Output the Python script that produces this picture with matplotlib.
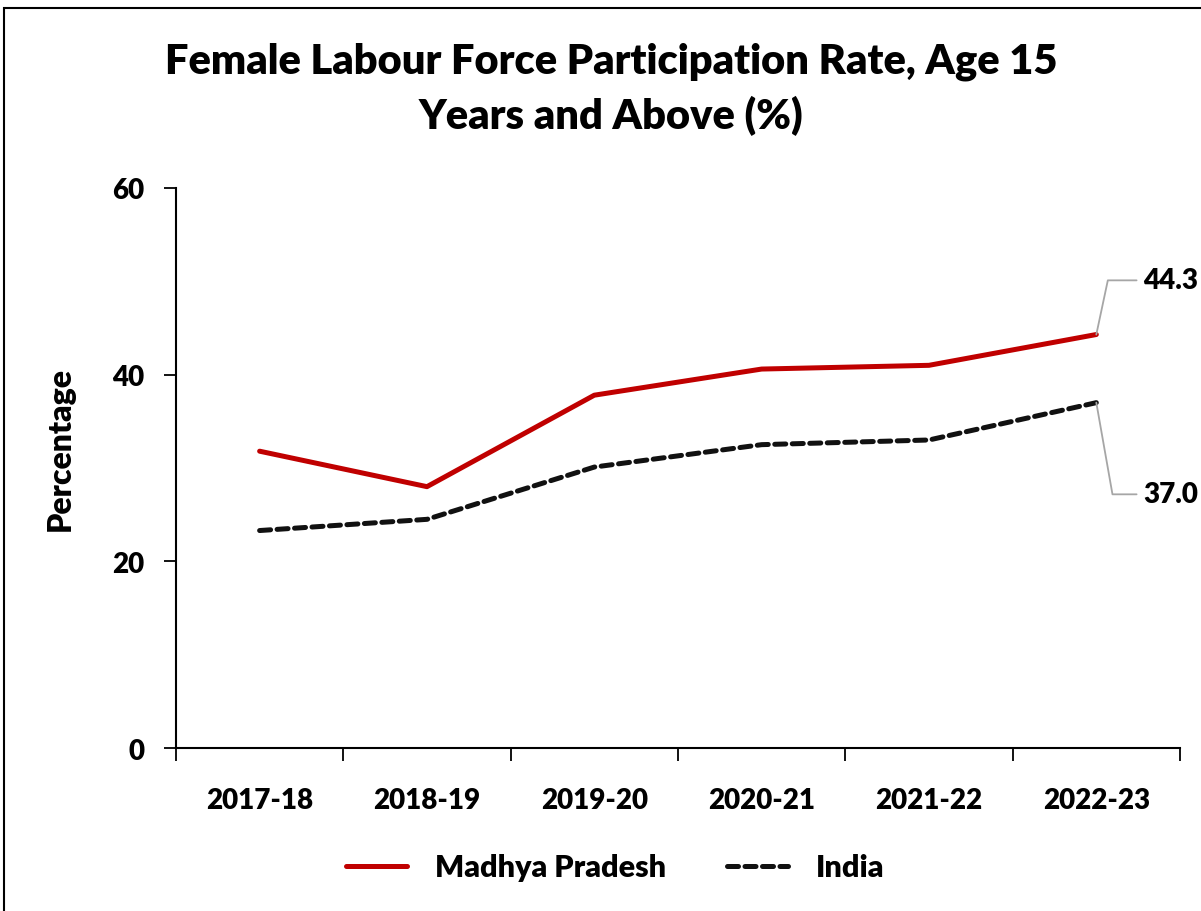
import numpy as np
import matplotlib.pyplot as plt
from matplotlib.patches import Rectangle

plt.rcParams['font.family'] = ['Lato', 'DejaVu Sans']
plt.rcParams['font.weight'] = 'heavy'
W = "heavy"

years = ["2017-18", "2018-19", "2019-20", "2020-21", "2021-22", "2022-23"]
mp = [31.8, 28.0, 37.8, 40.6, 41.0, 44.3]
india = [23.3, 24.5, 30.1, 32.5, 33.0, 37.0]

fig = plt.figure(figsize=(12.01, 9.12), dpi=100)
ax = fig.add_axes([0.1465, 0.1787, 0.836, 0.6141])

x = np.arange(len(years))
ax.plot(x, mp, color="#C00000", lw=3.6, label="Madhya Pradesh", solid_capstyle="round")
ax.plot(x, india, color="#111111", lw=3.6, ls=(0, (2.2, 1.3)), dash_capstyle="round",
        label="India")

ax.set_xlim(-0.5, len(years) - 0.5)
ax.set_ylim(0, 60)
ax.set_yticks([0, 20, 40, 60])
ax.set_xticks(x)
ax.set_xticklabels(years, fontweight=W, fontsize=20)
ax.set_yticklabels(["0", "20", "40", "60"], fontweight=W, fontsize=20)
ax.set_xticks(np.arange(-0.5, len(years)), minor=True)
ax.tick_params(axis="x", which="major", length=0, pad=28)
ax.tick_params(axis="x", which="minor", length=9, width=1.3, direction="out")
ax.tick_params(axis="y", length=9, width=1.3, direction="out", pad=14)
for s in ["top", "right"]:
    ax.spines[s].set_visible(False)
for s in ["left", "bottom"]:
    ax.spines[s].set_linewidth(1.5)
ax.set_ylabel("Percentage", fontsize=23, fontweight=W)
ax.yaxis.set_label_coords(-0.101, 0.536)

# end-point labels with leader lines
lbl = dict(fontsize=20, fontweight=W, va="center", ha="left", annotation_clip=False)
ax.annotate(f"{mp[-1]:.1f}", xy=(x[-1], mp[-1]), xytext=(34, 39), textcoords="offset points",
            arrowprops=dict(arrowstyle="-", color="#A6A6A6", lw=1.3,
                            connectionstyle="angle,angleA=0,angleB=78,rad=0",
                            shrinkA=3, shrinkB=0), **lbl)
ax.annotate(f"{india[-1]:.1f}", xy=(x[-1], india[-1]), xytext=(34, -66), textcoords="offset points",
            arrowprops=dict(arrowstyle="-", color="#A6A6A6", lw=1.3,
                            connectionstyle="angle,angleA=0,angleB=-80,rad=0",
                            shrinkA=3, shrinkB=0), **lbl)

fig.suptitle("Female Labour Force Participation Rate, Age 15\nYears and Above (%)",
             x=0.509, y=0.953, fontsize=30, fontweight=W, linespacing=1.45)

fig.legend(loc="center", bbox_to_anchor=(0.512, 0.048), ncol=2, frameon=False,
           prop=dict(size=22, weight=W), handlelength=2.0, columnspacing=2.0,
           handletextpad=0.9)

fig.add_artist(Rectangle((0.003, -0.01), 1.1, 1.0, transform=fig.transFigure,
                         fill=False, edgecolor="black", lw=1.5))

fig.savefig("out.png", dpi=100)
